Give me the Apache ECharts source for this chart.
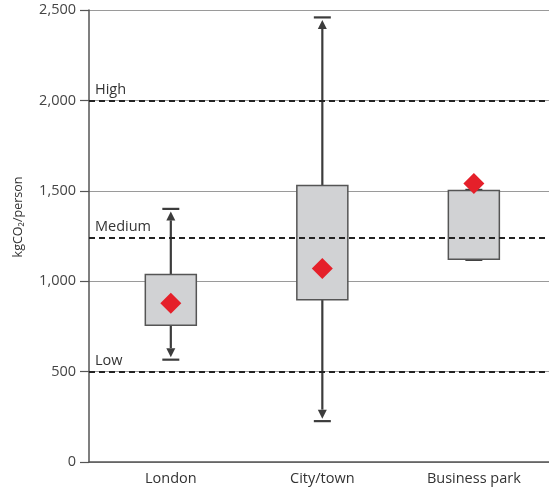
<!DOCTYPE html>
<html><head><meta charset="utf-8">
<script src="https://cdn.jsdelivr.net/npm/echarts@6/dist/echarts.min.js"></script>
<style>html,body{margin:0;padding:0;background:#fff}#c{width:549px;height:492px}</style>
</head><body><div id="c"></div>
<script>
var categories = ['London', 'City/town', 'Business park'];
var whiskerLow = [566, 226, 1118];
var boxLow = [757, 897, 1121];
var boxHigh = [1037, 1529, 1501];
var whiskerHigh = [1400, 2459, 1505];
var means = [878, 1070, 1541];
var thresholdValues = [2000, 1240, 500];
var thresholdLabels = ['High', 'Medium', 'Low'];
var yTicks = [0, 500, 1000, 1500, 2000, 2500];

var FONT = 'Open Sans';
var chart = echarts.init(document.getElementById('c'), null, {renderer: 'canvas'});

var catIdx = categories.map(function (c, i) { return i; });
var boxData = categories.map(function (c, i) {
  return [i, whiskerLow[i], boxLow[i], boxHigh[i], whiskerHigh[i]];
});
var meanData = categories.map(function (c, i) { return [i, means[i]]; });

function whisker(x, yFrom, yTo, dir, color) {
  var els = [];
  var len = Math.abs(yTo - yFrom);
  els.push({type: 'line', shape: {x1: x - 8.5, y1: yTo, x2: x + 8.5, y2: yTo},
    style: {stroke: color, lineWidth: 2.2}});
  if (len > 14) {
    var tip = yTo + dir * 2.5;
    var base = tip + dir * 9;
    els.push({type: 'line', shape: {x1: x, y1: yFrom, x2: x, y2: base},
      style: {stroke: color, lineWidth: 2.2}});
    els.push({type: 'polygon', shape: {points: [[x, tip], [x - 4.5, base], [x + 4.5, base]]},
      style: {fill: color}});
  }
  return els;
}

function renderBox(params, api) {
  var idx = api.value(0);
  var pWL = api.coord([idx, api.value(1)]);
  var pBL = api.coord([idx, api.value(2)]);
  var pBH = api.coord([idx, api.value(3)]);
  var pWH = api.coord([idx, api.value(4)]);
  var x = pBL[0];
  var w = 51;
  var color = '#3c3c3c';
  var children = [];
  children = children.concat(whisker(x, pBH[1], pWH[1], 1, color));
  children = children.concat(whisker(x, pBL[1], pWL[1], -1, color));
  children.push({type: 'rect', shape: {x: x - w / 2, y: pBH[1], width: w, height: pBL[1] - pBH[1]},
    style: {fill: '#d1d2d4', stroke: '#555', lineWidth: 1.5}});
  return {type: 'group', children: children};
}

var markData = thresholdValues.map(function (v, i) {
  return {yAxis: v, label: {formatter: thresholdLabels[i]}};
});

chart.setOption({
  backgroundColor: '#fff',
  animation: false,
  grid: {left: 89, top: 10, right: 0, height: 452},
  xAxis: {
    type: 'value', min: -0.54, max: 2.496,
    axisLine: {show: true, onZero: false, lineStyle: {color: '#555', width: 1.5}},
    axisTick: {show: false},
    splitLine: {show: false},
    axisLabel: {color: '#333', fontFamily: FONT, fontSize: 14.5, margin: 9,
      customValues: catIdx,
      formatter: function (v) { return categories[Math.round(v)] || ''; }}
  },
  yAxis: {
    type: 'value', min: yTicks[0], max: yTicks[yTicks.length - 1], interval: 500,
    name: 'kgCO\u2082/person', nameLocation: 'middle', nameRotate: 90, nameGap: 64,
    nameTextStyle: {color: '#333', fontFamily: FONT, fontSize: 12.5, padding: [0, 0, 0, 38]},
    axisLine: {show: true, onZero: false, lineStyle: {color: '#555', width: 1.5}},
    axisTick: {show: true, length: 9, lineStyle: {color: '#555', width: 1.2}},
    axisLabel: {color: '#444', fontFamily: FONT, fontSize: 14.5, margin: 13,
      formatter: function (v) { return v.toLocaleString('en-US'); }},
    splitLine: {show: true, lineStyle: {color: '#9a9a9a', width: 1.2}}
  },
  series: [
    {
      type: 'custom', renderItem: renderBox, data: boxData, z: 3,
      encode: {x: 0, y: [1, 2, 3, 4]},
      markLine: {
        silent: true, symbol: 'none', z: 4,
        lineStyle: {color: '#222', width: 2, type: [6, 4]},
        label: {show: true, position: 'insideStartTop', color: '#333',
          fontFamily: FONT, fontSize: 14.5, distance: [6, 3]},
        data: markData
      }
    },
    {
      type: 'scatter', data: meanData, symbol: 'diamond', symbolSize: [21, 21], z: 5,
      itemStyle: {color: '#e5202a', opacity: 1}
    }
  ]
});
</script></body></html>
